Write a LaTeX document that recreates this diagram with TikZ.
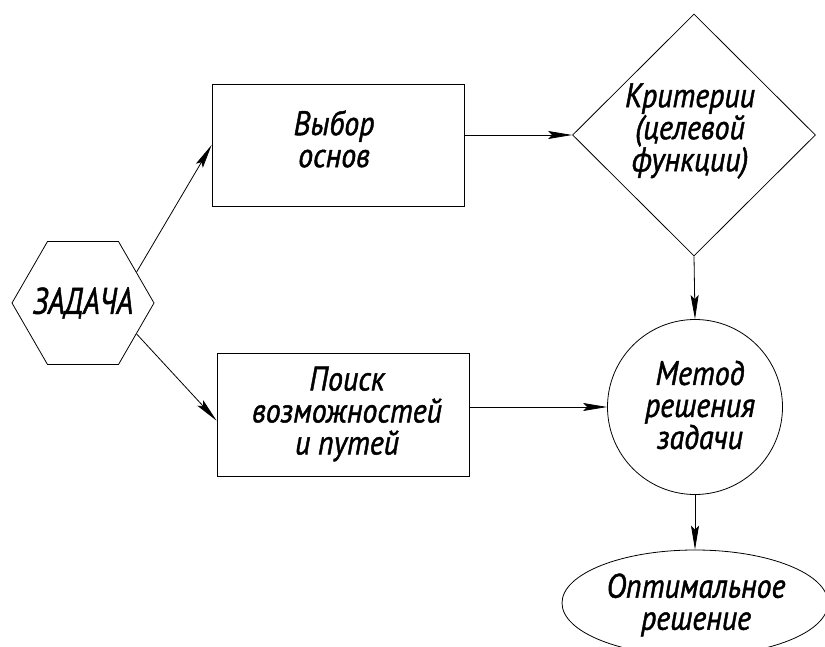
\documentclass[tikz,border=0pt]{standalone}
\usepackage{fontspec}
\setmainfont{PT Sans}
\newfontfamily\lblfont{PT Sans}[FakeBold=1.3, FakeStretch=0.88]
\newfontfamily\lblnarrow{PT Sans}[FakeBold=1.3, FakeStretch=0.8]
\usetikzlibrary{shapes.geometric,arrows.meta,calc}
\begin{document}
\begin{tikzpicture}[x=1pt,y=-1pt,
  shp/.style={draw, line width=0.8pt, inner sep=0pt},
  txt/.style={inner sep=0pt, align=center, font=\lblfont\fontsize{34}{32}\selectfont\itshape},
  conn/.style={draw, line width=0.8pt, -{Stealth[length=24pt,width=8pt,inset=4pt]}},
]
\useasboundingbox (0,0) rectangle (825,647);
\node[shp, regular polygon, regular polygon sides=6, minimum size=142pt] (hex) at (83,303) {};
\node[txt, font=\lblnarrow\fontsize{37}{40}\selectfont\itshape] (hexlbl) at (hex) {ЗАДАЧА};
\node[shp, rectangle, minimum width=252pt, minimum height=122pt] (top) at (338,145) {};
\node[txt] (toplbl) at (334,139) {Выбор\\основ};
\node[shp, rectangle, minimum width=252pt, minimum height=123pt] (bot) at (343,414.5) {};
\node[txt] (botlbl) at (347,414) {Поиск\\возможностей\\и путей};
\node[shp, diamond, minimum width=243pt, minimum height=242pt] (crit) at (694,135) {};
\node[txt] (critlbl) at (690,131) {Критерии\\(целевой\\функции)};
\node[shp, circle, minimum size=175pt] (met) at (695,407) {};
\node[txt] (metlbl) at (700,405) {Метод\\решения\\задачи};
\node[shp, ellipse, minimum width=266pt, minimum height=106pt] (opt) at (695,603) {};
\node[txt] (optlbl) at (696,605) {Оптимальное\\решение};

\draw[conn] (hex.30) -- (top.west);
\draw[conn] (hex.-30) -- ($(bot.west)!0.1!(bot.south west)$);
\draw[conn] (crit.west -| top.east) -- (crit.west);
\draw[conn] (met.west -| bot.east) -- (met.west);
\draw[conn] (crit.south) -- (met.north);
\draw[conn] (met.south) -- (opt.north);
\end{tikzpicture}
\end{document}
